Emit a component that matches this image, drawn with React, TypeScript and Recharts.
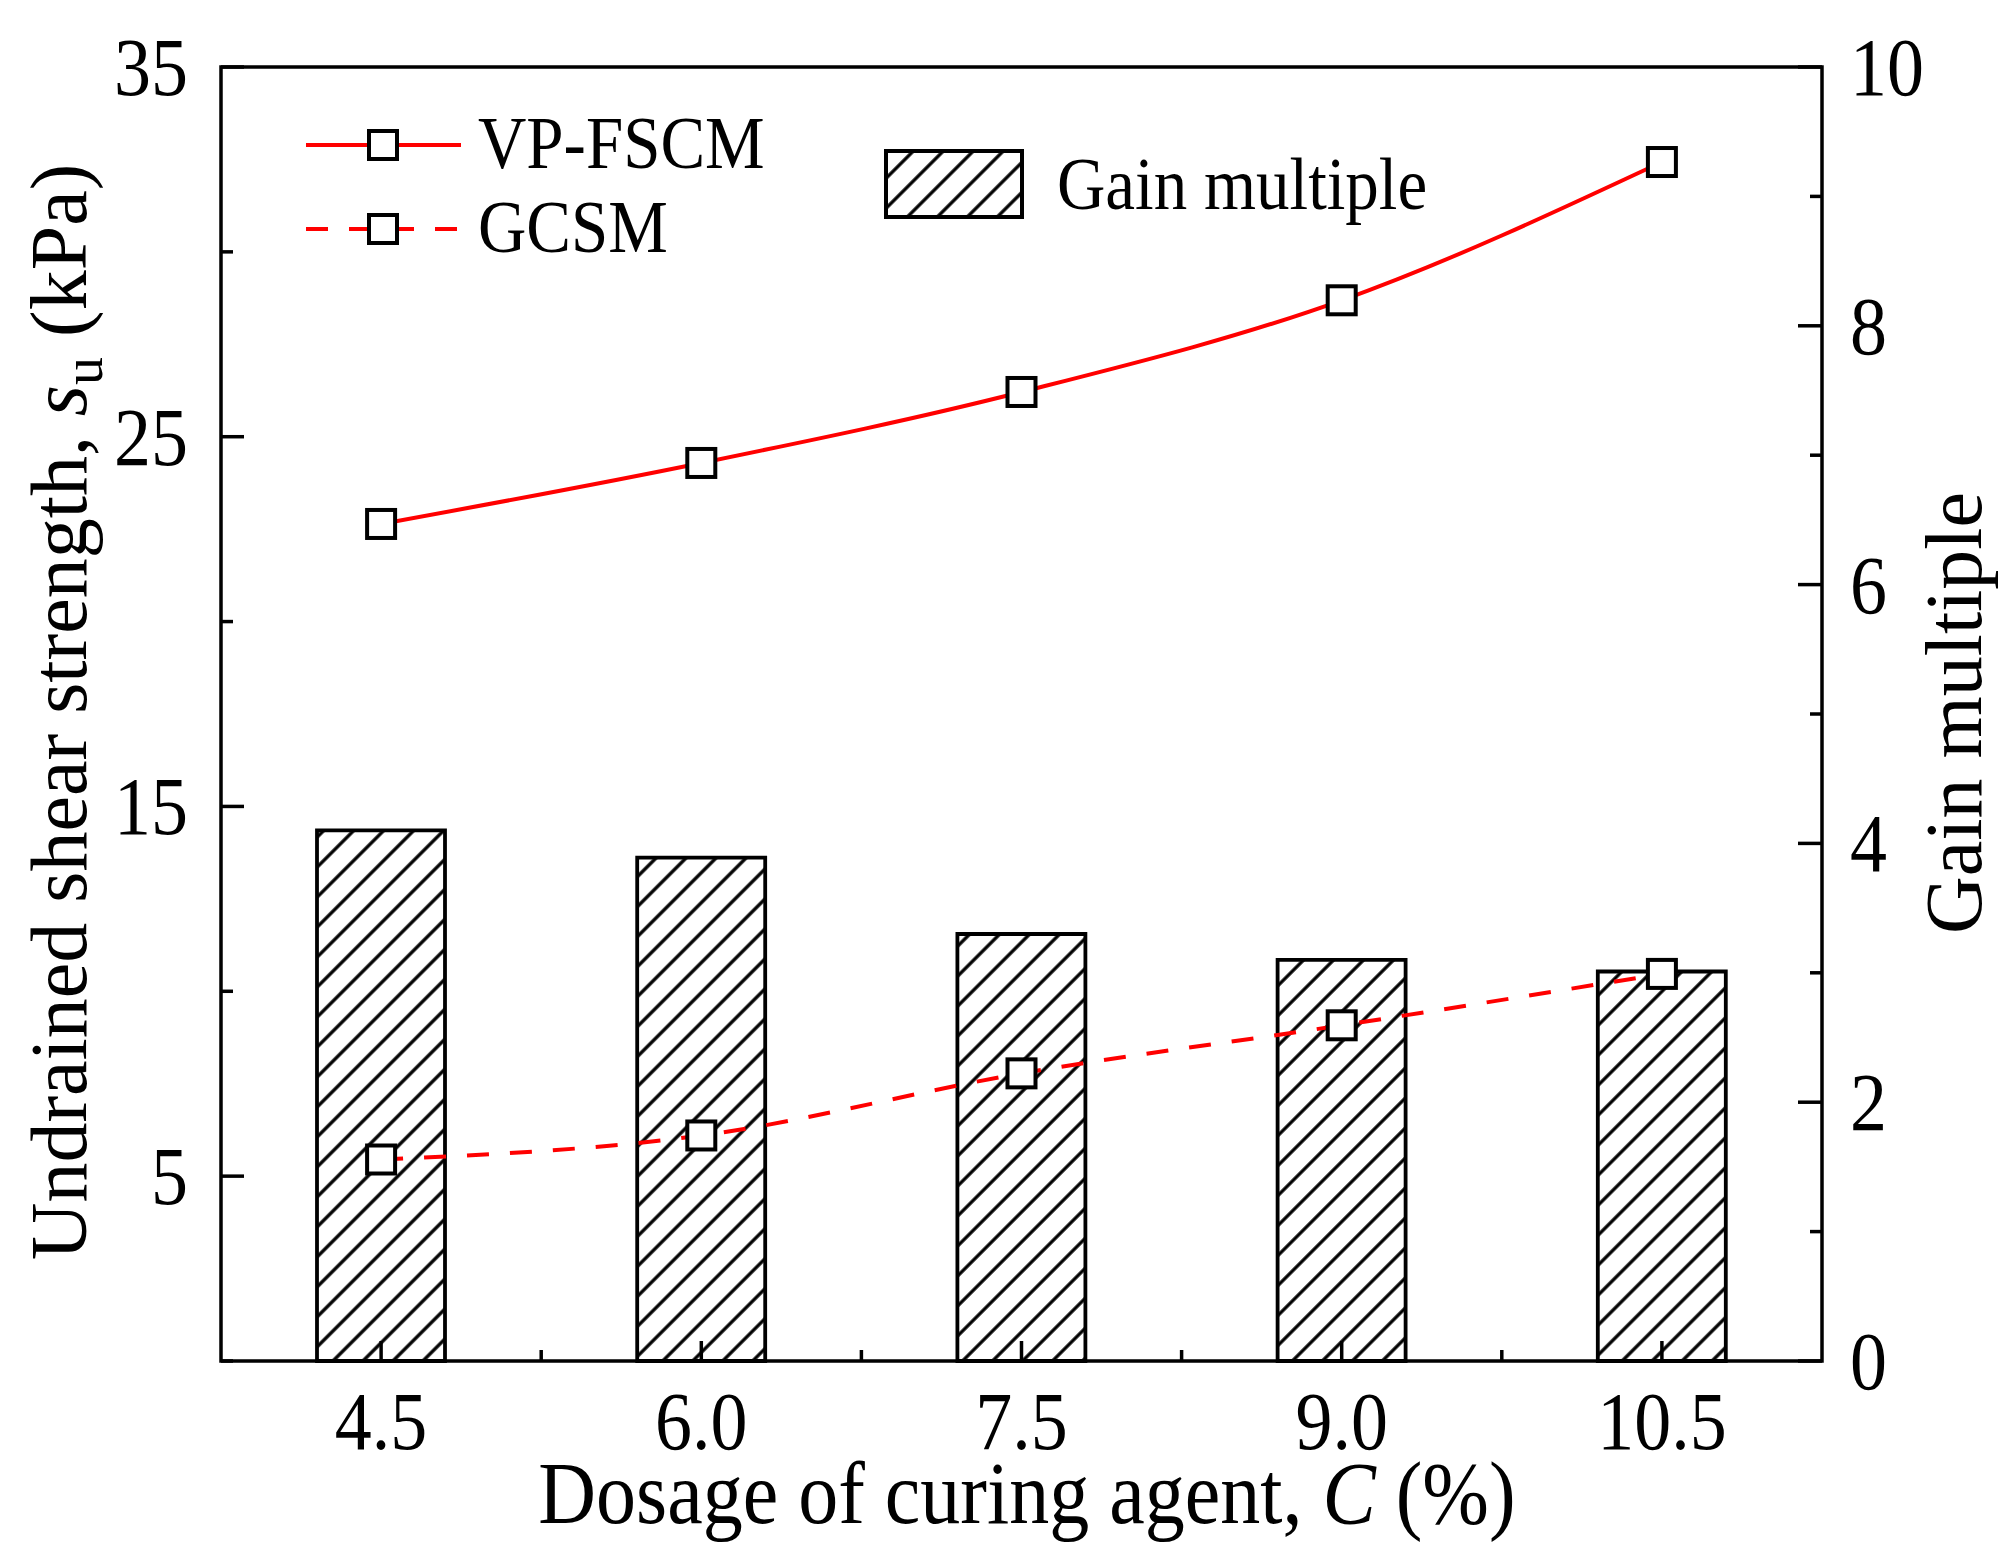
import { Bar, ComposedChart, Label, Legend, Line, ReferenceArea, XAxis, YAxis } from "recharts";

const dosage = ["4.5", "6.0", "7.5", "9.0", "10.5"];
const vpFscm = [22.64, 24.29, 26.21, 28.69, 32.43];
const gcsm = [5.45, 6.1, 7.78, 9.08, 10.47];
const gainMultiple = [4.1, 3.89, 3.3, 3.1, 3.01];

const leftTicks = [0, 5, 10, 15, 20, 25, 30, 35];
const leftLabels = [5, 15, 25, 35];
const rightTicks = [0, 1, 2, 3, 4, 5, 6, 7, 8, 9, 10];
const rightLabels = [0, 2, 4, 6, 8, 10];

const data = dosage.map((d, i) => ({ dosage: d, vp: vpFscm[i], gcsm: gcsm[i], gain: gainMultiple[i] }));

const W = 2016;
const H = 1554;
const PLOT_L = 221;
const PLOT_R = 1822;
const PLOT_T = 67;
const PLOT_B = 1361;
const FONT = "'Liberation Serif', 'Times New Roman', serif";
const RED = "#ff0000";
const DASH = "22 21";
const TICK_FS = 74;
const STRETCH = 1.12;

// text drawn a little taller than wide, as in the source figure
const Txt = ({ x, y, size, anchor = "start", sy = 1.1, children }: any) => (
  <text
    transform={`translate(${x} ${y}) scale(1 ${sy})`}
    textAnchor={anchor}
    fontFamily={FONT}
    fontSize={size}
    fill="#000"
  >
    {children}
  </text>
);

const SquareDot = (props: any) => {
  const { cx, cy, index } = props;
  if (cx == null || cy == null) return <g key={index} />;
  return <rect key={index} x={cx - 14} y={cy - 14} width={28} height={28} fill="#fff" stroke="#000" strokeWidth={4} />;
};

const XTick = (props: any) => {
  const { x, y, payload, index } = props;
  const half = (PLOT_R - PLOT_L) / dosage.length / 2;
  return (
    <g>
      <line x1={x} x2={x} y1={y} y2={y - 20} stroke="#000" strokeWidth={3.5} />
      {index < dosage.length - 1 && (
        <line x1={x + half} x2={x + half} y1={y} y2={y - 11} stroke="#000" strokeWidth={3.5} />
      )}
      <Txt x={x} y={y + 88} size={TICK_FS} anchor="middle" sy={STRETCH}>
        {payload.value}
      </Txt>
    </g>
  );
};

const LeftTick = (props: any) => {
  const { x, y, payload } = props;
  const major = leftLabels.includes(payload.value);
  return (
    <g>
      <line x1={x} x2={x + (major ? 23 : 12)} y1={y} y2={y} stroke="#000" strokeWidth={3.5} />
      {major && (
        <Txt x={x - 33} y={y + 28} size={TICK_FS} anchor="end" sy={STRETCH}>
          {payload.value}
        </Txt>
      )}
    </g>
  );
};

const RightTick = (props: any) => {
  const { x, y, payload } = props;
  const major = rightLabels.includes(payload.value);
  return (
    <g>
      <line x1={x} x2={x - (major ? 24 : 12)} y1={y} y2={y} stroke="#000" strokeWidth={3.5} />
      {major && (
        <Txt x={x + 28} y={y + 28} size={TICK_FS} anchor="start" sy={STRETCH}>
          {payload.value}
        </Txt>
      )}
    </g>
  );
};

const XTitle = () => (
  <Txt x={1027} y={1523} size={80} anchor="middle">
    Dosage of curing agent, <tspan fontStyle="italic">C</tspan> (%)
  </Txt>
);

const LeftTitle = () => (
  <text
    x={86}
    y={712}
    transform="rotate(-90 86 712)"
    textAnchor="middle"
    fontFamily={FONT}
    fontSize={80}
    fill="#000"
  >
    Undrained shear strength, <tspan fontStyle="italic">s</tspan>
    <tspan dy={16} fontSize={56}>u</tspan>
    <tspan dy={-16}> (kPa)</tspan>
  </text>
);

const RightTitle = () => (
  <text
    x={1981}
    y={713}
    transform="rotate(-90 1981 713)"
    textAnchor="middle"
    fontFamily={FONT}
    fontSize={80}
    fill="#000"
  >
    Gain multiple
  </text>
);

const hatchDef = (id: string) => (
  <pattern id={id} patternUnits="userSpaceOnUse" width={21.2} height={21.2} patternTransform="rotate(45)">
    <rect width={21.2} height={21.2} fill="#fff" />
    <line x1={10.6} y1={0} x2={10.6} y2={21.2} stroke="#000" strokeWidth={3.3} />
  </pattern>
);

const renderLegend = () => (
  <svg width={W} height={300} style={{ display: "block" }}>
    <defs>{hatchDef("hatchLegend")}</defs>
    <line x1={306} x2={461} y1={145} y2={145} stroke={RED} strokeWidth={4} />
    <rect x={369} y={131} width={28} height={28} fill="#fff" stroke="#000" strokeWidth={4} />
    <Txt x={478} y={168} size={67}>VP-FSCM</Txt>
    <line x1={306} x2={461} y1={229} y2={229} stroke={RED} strokeWidth={4} strokeDasharray={DASH} />
    <rect x={369} y={215} width={28} height={28} fill="#fff" stroke="#000" strokeWidth={4} />
    <Txt x={478} y={252} size={67}>GCSM</Txt>
    <rect x={886} y={151} width={136} height={66} fill="url(#hatchLegend)" stroke="#000" strokeWidth={4} />
    <Txt x={1057} y={209} size={67}>Gain multiple</Txt>
  </svg>
);

const App = () => {
  return (
    <div style={{ position: "absolute", left: 0, top: 0, width: W, height: H, background: "#fff" }}>
      <ComposedChart width={W} height={H} data={data} margin={{ top: PLOT_T, right: 0, bottom: 0, left: 0 }}>
        <defs>{hatchDef("hatch")}</defs>
        <XAxis
          dataKey="dosage"
          height={H - PLOT_B}
          axisLine={false}
          tickLine={false}
          tickSize={0}
          tickMargin={0}
          interval={0}
          tick={XTick}
        >
          <Label content={XTitle} />
        </XAxis>
        <YAxis
          yAxisId="left"
          orientation="left"
          width={PLOT_L}
          domain={[0, 35]}
          ticks={leftTicks}
          axisLine={false}
          tickLine={false}
          tickSize={0}
          tickMargin={0}
          interval={0}
          tick={LeftTick}
        >
          <Label content={LeftTitle} />
        </YAxis>
        <YAxis
          yAxisId="right"
          orientation="right"
          width={W - PLOT_R}
          domain={[0, 10]}
          ticks={rightTicks}
          axisLine={false}
          tickLine={false}
          tickSize={0}
          tickMargin={0}
          interval={0}
          tick={RightTick}
        >
          <Label content={RightTitle} />
        </YAxis>
        <Bar
          yAxisId="right"
          dataKey="gain"
          name="Gain multiple"
          barSize={128}
          fill="url(#hatch)"
          stroke="#000"
          strokeWidth={3.8}
          isAnimationActive={false}
        />
        <Line
          yAxisId="left"
          dataKey="vp"
          name="VP-FSCM"
          type="monotone"
          stroke={RED}
          strokeWidth={4}
          dot={SquareDot}
          activeDot={false}
          isAnimationActive={false}
        />
        <Line
          yAxisId="left"
          dataKey="gcsm"
          name="GCSM"
          type="monotone"
          stroke={RED}
          strokeWidth={4}
          strokeDasharray={DASH}
          dot={SquareDot}
          activeDot={false}
          isAnimationActive={false}
        />
        <ReferenceArea yAxisId="left" y1={0} y2={35} fill="none" stroke="#000" strokeWidth={3.5} ifOverflow="visible" />
        <Legend
          content={renderLegend}
          layout="horizontal"
          verticalAlign="middle"
          align="center"
          wrapperStyle={{ left: 0, top: 0, width: W, height: 300 }}
        />
      </ComposedChart>
    </div>
  );
};

export default App;
